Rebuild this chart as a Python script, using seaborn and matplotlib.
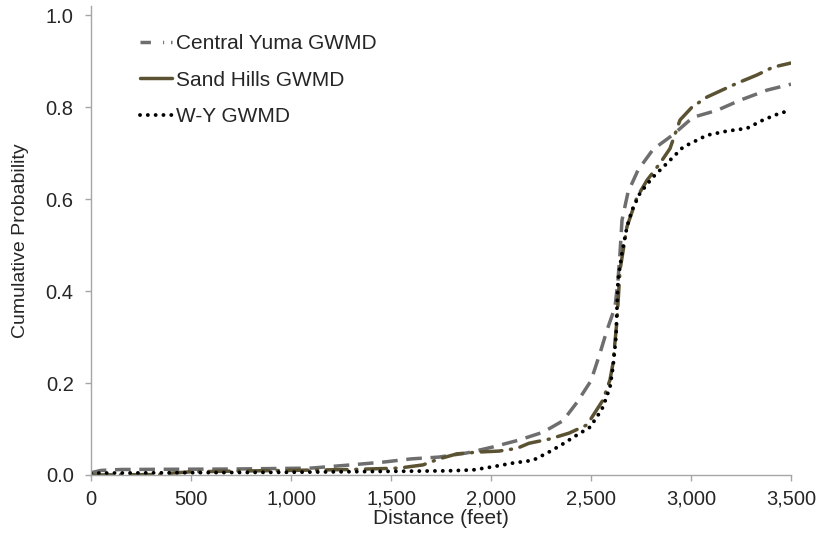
import matplotlib
matplotlib.use("Agg")
import matplotlib.pyplot as plt
from matplotlib.lines import Line2D
import seaborn as sns

# =========================
# DADES (llegides del gràfic)
# =========================
cy_dist = [0, 50, 150, 700, 1100, 1300, 1460, 1600, 1740, 1880, 2010, 2140, 2260, 2360,
           2430, 2500, 2545, 2580, 2620, 2635, 2645, 2655, 2685, 2735, 2810, 2910, 3010,
           3130, 3245, 3380, 3500]
cy_prob = [0.005, 0.010, 0.012, 0.013, 0.015, 0.022, 0.028, 0.035, 0.039, 0.048, 0.061,
           0.076, 0.093, 0.118, 0.158, 0.205, 0.265, 0.315, 0.365, 0.424, 0.483, 0.554,
           0.615, 0.663, 0.708, 0.740, 0.778, 0.793, 0.815, 0.837, 0.850]

sh_dist = [0, 350, 400, 500, 800, 1000, 1300, 1540, 1660, 1740, 1830, 1940, 2040, 2130,
           2190, 2290, 2390, 2480, 2560, 2595, 2610, 2630, 2645, 2680, 2730, 2780, 2845,
           2895, 2945, 3005, 3080, 3155, 3230, 3330, 3410, 3500]
sh_prob = [0.000, 0.001, 0.004, 0.007, 0.009, 0.010, 0.012, 0.015, 0.022, 0.035, 0.046,
           0.050, 0.052, 0.058, 0.069, 0.078, 0.091, 0.109, 0.163, 0.207, 0.243, 0.337,
           0.446, 0.540, 0.604, 0.641, 0.678, 0.710, 0.772, 0.800, 0.822, 0.837, 0.852,
           0.870, 0.887, 0.896]

wy_dist = [0, 500, 1000, 1500, 1780, 1910, 2010, 2110, 2210, 2290, 2350, 2430, 2495,
           2535, 2560, 2595, 2610, 2625, 2630, 2635, 2655, 2680, 2705, 2745, 2810, 2880,
           2960, 3080, 3180, 3280, 3360, 3445, 3500]
wy_prob = [0.004, 0.005, 0.006, 0.008, 0.009, 0.011, 0.018, 0.026, 0.032, 0.050, 0.065,
           0.087, 0.104, 0.130, 0.148, 0.191, 0.235, 0.300, 0.365, 0.424, 0.483, 0.540,
           0.576, 0.613, 0.648, 0.678, 0.713, 0.739, 0.748, 0.754, 0.772, 0.787, 0.793]

labels = ["Central Yuma GWMD", "Sand Hills GWMD", "W-Y GWMD"]
x_ticks = [0, 500, 1000, 1500, 2000, 2500, 3000, 3500]
y_ticks = [0.0, 0.2, 0.4, 0.6, 0.8, 1.0]

# =========================
# ESTIL
# =========================
sns.set_style("white")
plt.rcParams['font.family'] = ['Liberation Sans', 'DejaVu Sans']

c_grey = '#6e6e6e'
c_olive = '#5a5232'
c_black = '#000000'
c_axis = '#a6a6a6'
ls_grey = (0, (4.5, 2.5))
ls_olive = (0, (6, 2.5, 0.3, 2.5))
ls_black = (0, (0.01, 2.0))

fig = plt.figure(figsize=(8.21, 5.37), dpi=100)
# eix: 0 a x=91 px, 3500 a x=791 px; 0.0 a y=475 px, 1.0 a y=15 px
ax = fig.add_axes([91/821, 1 - 475/537, 700/821, 469/537])

sns.lineplot(x=cy_dist, y=cy_prob, color=c_grey, lw=2.5, linestyle=ls_grey,
             estimator=None, sort=False, ax=ax)
sns.lineplot(x=sh_dist, y=sh_prob, color=c_olive, lw=2.5, linestyle=ls_olive,
             dash_capstyle='round', estimator=None, sort=False, ax=ax)
sns.lineplot(x=wy_dist, y=wy_prob, color=c_black, lw=2.8, linestyle=ls_black,
             dash_capstyle='round', estimator=None, sort=False, ax=ax)

ax.set_xlim(0, 3500)
ax.set_ylim(0, 1.02)
ax.set_xticks(x_ticks)
ax.set_xticklabels([f"{v:,}" for v in x_ticks])
ax.set_yticks(y_ticks)
ax.set_yticklabels([f"{v:.1f}" for v in y_ticks])
ax.tick_params(axis='both', labelsize=14.5, length=4.5, width=1, color=c_axis,
               direction='out', bottom=True, left=True)
ax.tick_params(axis='y', pad=8)
ax.tick_params(axis='x', pad=6)
ax.set_xlabel("Distance (feet)", fontsize=15, labelpad=0)
ax.set_ylabel("Cumulative Probability", fontsize=14)
ax.yaxis.set_label_coords(-0.088, 0.5)

for side in ['top', 'right']:
    ax.spines[side].set_visible(False)
for side in ['left', 'bottom']:
    ax.spines[side].set_color(c_axis)
    ax.spines[side].set_linewidth(1)

# llegenda amb els mateixos símbols que l'original
handles = [
    Line2D([], [], color=c_grey, lw=2.5, linestyle=(0, (3, 3.5, 0.3, 2))),
    Line2D([], [], color=c_olive, lw=2.5, linestyle='-'),
    Line2D([], [], color=c_black, lw=2.8, linestyle=ls_black, dash_capstyle='round'),
]
fig.legend(handles, labels, loc='upper left', bbox_to_anchor=(140/821, 1 - 34/537),
           frameon=False, fontsize=15, handlelength=1.55, handletextpad=0.2,
           labelspacing=0.85, borderpad=0, borderaxespad=0)

plt.savefig("out.png", dpi=100)
